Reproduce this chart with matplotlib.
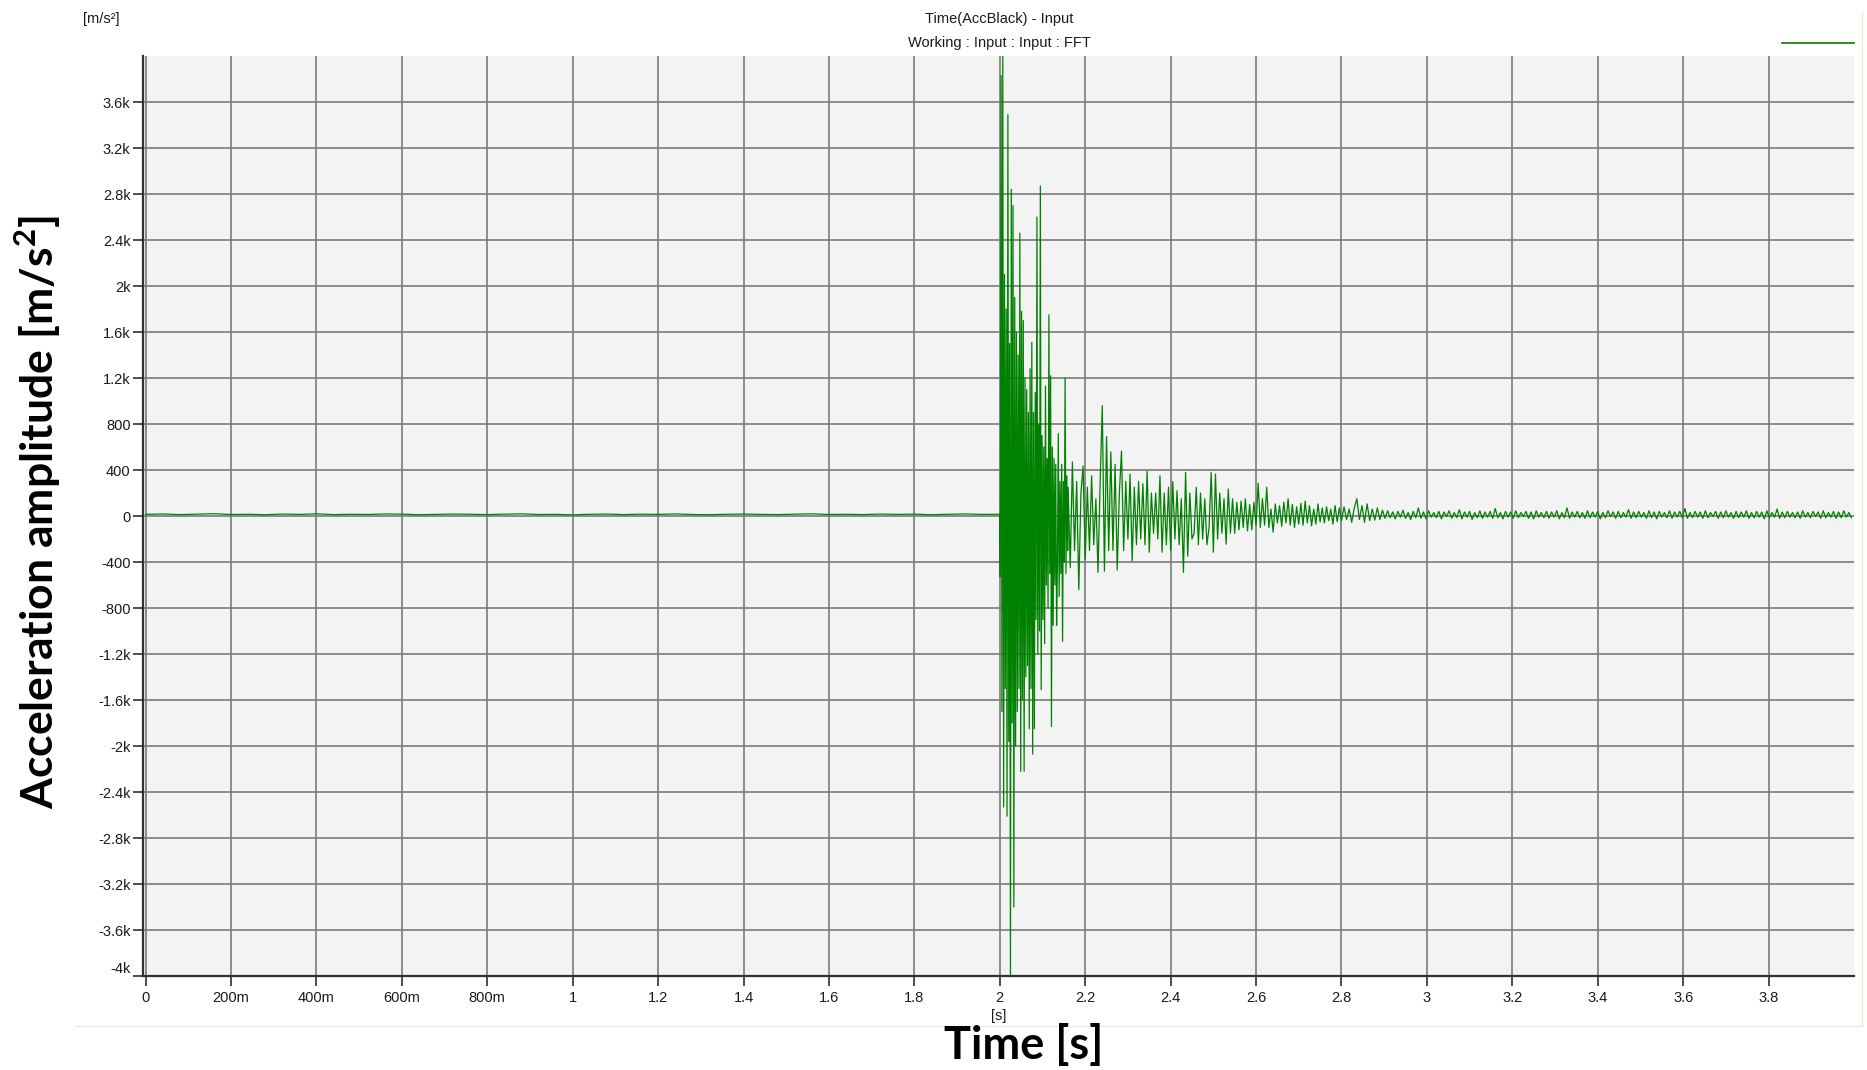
import numpy as np
import matplotlib
matplotlib.use('Agg')
import matplotlib.pyplot as plt
from matplotlib.lines import Line2D
from matplotlib.patches import Rectangle

# ---------------- data ----------------
PRE_T0, PRE_DT = 0.0, 0.04
PRE_VALUES = [14, 18, 12, 16, 20, 13, 15, 11, 17, 14, 19, 12, 15, 13, 18, 16, 11,
              14, 17, 15, 12, 16, 19, 13, 14, 10, 15, 17, 12, 16, 14, 18, 13, 11,
              15, 17, 14, 12, 16, 19, 13, 15, 12, 17, 14, 16, 11, 15, 18, 14, 15]

IMPACT_T0, IMPACT_DT = 2.001, 0.002
IMPACT_VALUES = [-530, 3830, -1700, 4100, -2530, 2100, -1500, 1800, -2610, 3490,
                 -1960, 1500, -4100, 2840, -1800, 2700, -3400, 1900, -2000, 1600,
                 -1700, 1400, -1500, 2460, -2220, 1780, -1600, 1700, -2220, 1200,
                 -1400, 1100, -1300, 900, -1850, 1280, -1500, 1510, -2070, 900,
                 -1850, 1075, -900, 2600, -1200, 800, -1000, 2870, -1510, 700,
                 -900, 600, -1110, 1130, -600, 500, -800, 1750, -500, 1220,
                 -1830, 600, -950, 500, -600, 450, -950, -400, 715, -700,
                 300, -500, 450, -1090, 300, -400, 1200, -500, 350, -300]

DECAY_T0, DECAY_DT = 2.160, 0.005
DECAY_VALUES = [250, -450, 470, -300, 300, -640, 200, 435, -375, 250,
                -300, 350, -250, 150, -490, 300, 960, -480, 690, -300,
                557, -300, 450, -470, 200, 565, -300, 300, -200, 365,
                -390, 250, -250, 300, -200, 280, -250, 390, -315, 200,
                -150, 200, -200, 350, -315, 200, -250, 250, -300, 300,
                -200, 220, -250, 150, -490, 380, -350, 200, -200, -150,
                250, -250, 200, -200, 150, -250, -100, 380, -315, 365,
                -200, 200, -150, 150, -245, 235, -150, 150, -150, 120,
                -120, 130, -100, 150, -130, 100, -120, 120, -80, 285,
                -100, 150, -80, 250, -100, 60, -140, 105, -60, 90,
                -90, 120, -60, 150, -80, 100, -100, 80, -70, 110,
                -80, 130, -60, 90, -85, 60, -70, 105, -50, 70,
                -60, 80, -40, 60, -70, 90, -50, 70]

TAIL_T0, TAIL_DT = 2.800, 0.006
TAIL_VALUES = [-40, 80, -30, 60, -55, 70, 150, -30, 90, -55, 105, -40, 60, -35, 70, -30, 50,
               -20, 45, -15, 35, -25, 40, -10, 50, -20, 30, -30, 40, -15, 70, -20, 35, -25, 45, -10, 30,
               -15, 40, -25, 35, -5, 45, -20, 30, -15, 55, -25, 35, -10, 40, -30, 30, -15, 45, -20, 35,
               -10, 40, -20, 65, -15, 30, -25, 40, -10, 35, -20, 45, -15, 30, -5, 40, -20, 35, -25, 45,
               -10, 30, -15, 40, -20, 35, -10, 45, -25, 30, -15, 70, -20, 35, -10, 40, -15, 30, -20, 45,
               -15, 35, -10, 40, -25, 30, -15, 45, -5, 35, -20, 40, -15, 30, -10, 55, -20, 35, -15, 40,
               -10, 30, -20, 45, -15, 35, -25, 40, -10, 30, -15, 45, -20, 35, -10, 40, -15, 65, -20, 30,
               -15, 40, -10, 35, -20, 45, -15, 30, -5, 40, -20, 35, -15, 45, -10, 30, -20, 40, -15, 35,
               -10, 45, -20, 30, -15, 40, -10, 35, -25, 45, -15, 30, -10, 60, -20, 35, -15, 40, -10, 30,
               -15, 35, -20, 45, -10, 30, -15, 40, -5, 35, -20, 45, -15, 30, -10, 40, -20, 35, -15, 45,
               -10, 30, -15]

Y_TICKS = [-4000, -3600, -3200, -2800, -2400, -2000, -1600, -1200, -800, -400,
           0, 400, 800, 1200, 1600, 2000, 2400, 2800, 3200, 3600]
Y_TICK_LABELS = ['-4k', '-3.6k', '-3.2k', '-2.8k', '-2.4k', '-2k', '-1.6k', '-1.2k',
                 '-800', '-400', '0', '400', '800', '1.2k', '1.6k', '2k', '2.4k',
                 '2.8k', '3.2k', '3.6k']
X_TICKS = [0, 0.2, 0.4, 0.6, 0.8, 1.0, 1.2, 1.4, 1.6, 1.8, 2.0, 2.2, 2.4, 2.6,
           2.8, 3.0, 3.2, 3.4, 3.6, 3.8]
X_TICK_LABELS = ['0', '200m', '400m', '600m', '800m', '1', '1.2', '1.4', '1.6',
                 '1.8', '2', '2.2', '2.4', '2.6', '2.8', '3', '3.2', '3.4', '3.6', '3.8']

TITLE_1 = 'Time(AccBlack) - Input'
TITLE_2 = 'Working : Input : Input : FFT'
Y_UNIT = '[m/s²]'
X_UNIT = '[s]'
X_LABEL = 'Time [s]'
Y_LABEL = r'Acceleration amplitude [m/s$^{\mathbf{2}}$]'

# ---------------- build series ----------------
segments = [(PRE_T0, PRE_DT, PRE_VALUES), (IMPACT_T0, IMPACT_DT, IMPACT_VALUES),
            (DECAY_T0, DECAY_DT, DECAY_VALUES), (TAIL_T0, TAIL_DT, TAIL_VALUES)]
t_all, v_all = [], []
for t0, dt, vals in segments:
    t_all.append(t0 + dt * np.arange(len(vals)))
    v_all.append(np.asarray(vals, dtype=float))
t_all = np.concatenate(t_all)
v_all = np.concatenate(v_all)

# ---------------- figure ----------------
W, H = 1867, 1070
DPI = 100
plt.rcParams['mathtext.fontset'] = 'custom'
plt.rcParams['mathtext.rm'] = 'Lato'
plt.rcParams['mathtext.bf'] = 'Lato:bold'

fig = plt.figure(figsize=(W / DPI, H / DPI), dpi=DPI, facecolor='white')


def fx(px):
    return px / W


def fy(py):
    return 1 - py / H


# faint window frame (bottom and right edges)
fig.lines.append(Line2D([fx(75), fx(1862)], [fy(1026), fy(1026)], transform=fig.transFigure,
                        color='#ebebdc', lw=1.0))
fig.lines.append(Line2D([fx(1862), fx(1862)], [fy(1026), fy(12)], transform=fig.transFigure,
                        color='#ebebdc', lw=1.0))

ax = fig.add_axes([fx(143), fy(976), fx(1854) - fx(143), fy(56) - fy(976)])
ax.set_facecolor('#f3f3f3')
ax.plot(t_all, v_all, color='#008000', lw=0.9, zorder=3)

ax.set_xlim(-0.006, 4.0)
ax.set_ylim(-4000, 4000)
ax.set_xticks(X_TICKS, X_TICK_LABELS)
ax.set_yticks(Y_TICKS, Y_TICK_LABELS)

small_font = dict(family='Liberation Sans', size=10.5, color='#1a1a1a')
for lab in ax.get_xticklabels() + ax.get_yticklabels():
    lab.set_fontfamily('Liberation Sans')
    lab.set_fontsize(10.5)
    lab.set_color('#1a1a1a')

ax.tick_params(axis='both', direction='out', length=7, width=1.2, color='#303030')
ax.tick_params(axis='x', pad=4)
ax.tick_params(axis='y', pad=2)
ax.grid(True, color='#7a7a7a', lw=1.2, zorder=1)
ax.set_axisbelow(True)
for s in ['top', 'right']:
    ax.spines[s].set_visible(False)
for s in ['left', 'bottom']:
    ax.spines[s].set_color('#303030')
    ax.spines[s].set_linewidth(1.6)

# raise the bottom y label slightly as in the reference
ax.get_yticklabels()[0].set_verticalalignment('bottom')

# texts
fig.text(fx(101), fy(19), Y_UNIT, ha='center', va='center', **small_font)
fig.text(fx(999), fy(19), TITLE_1, ha='center', va='center', **small_font)
fig.text(fx(999), fy(43), TITLE_2, ha='center', va='center', **small_font)
fig.text(fx(999), fy(1016), X_UNIT, ha='center', va='center', **small_font)
fig.text(fx(1024), fy(1045), X_LABEL, ha='center', va='center',
         family='Lato', weight='bold', size=32.5, color='black')
fig.text(fx(38), fy(512), Y_LABEL, ha='center', va='center', rotation=90,
         family='Lato', weight='bold', size=32, color='black')

# legend line
fig.lines.append(Line2D([fx(1782), fx(1854)], [fy(43), fy(43)], transform=fig.transFigure,
                        color='#008000', lw=1.2))

fig.savefig('out.png', dpi=DPI, facecolor='white')
